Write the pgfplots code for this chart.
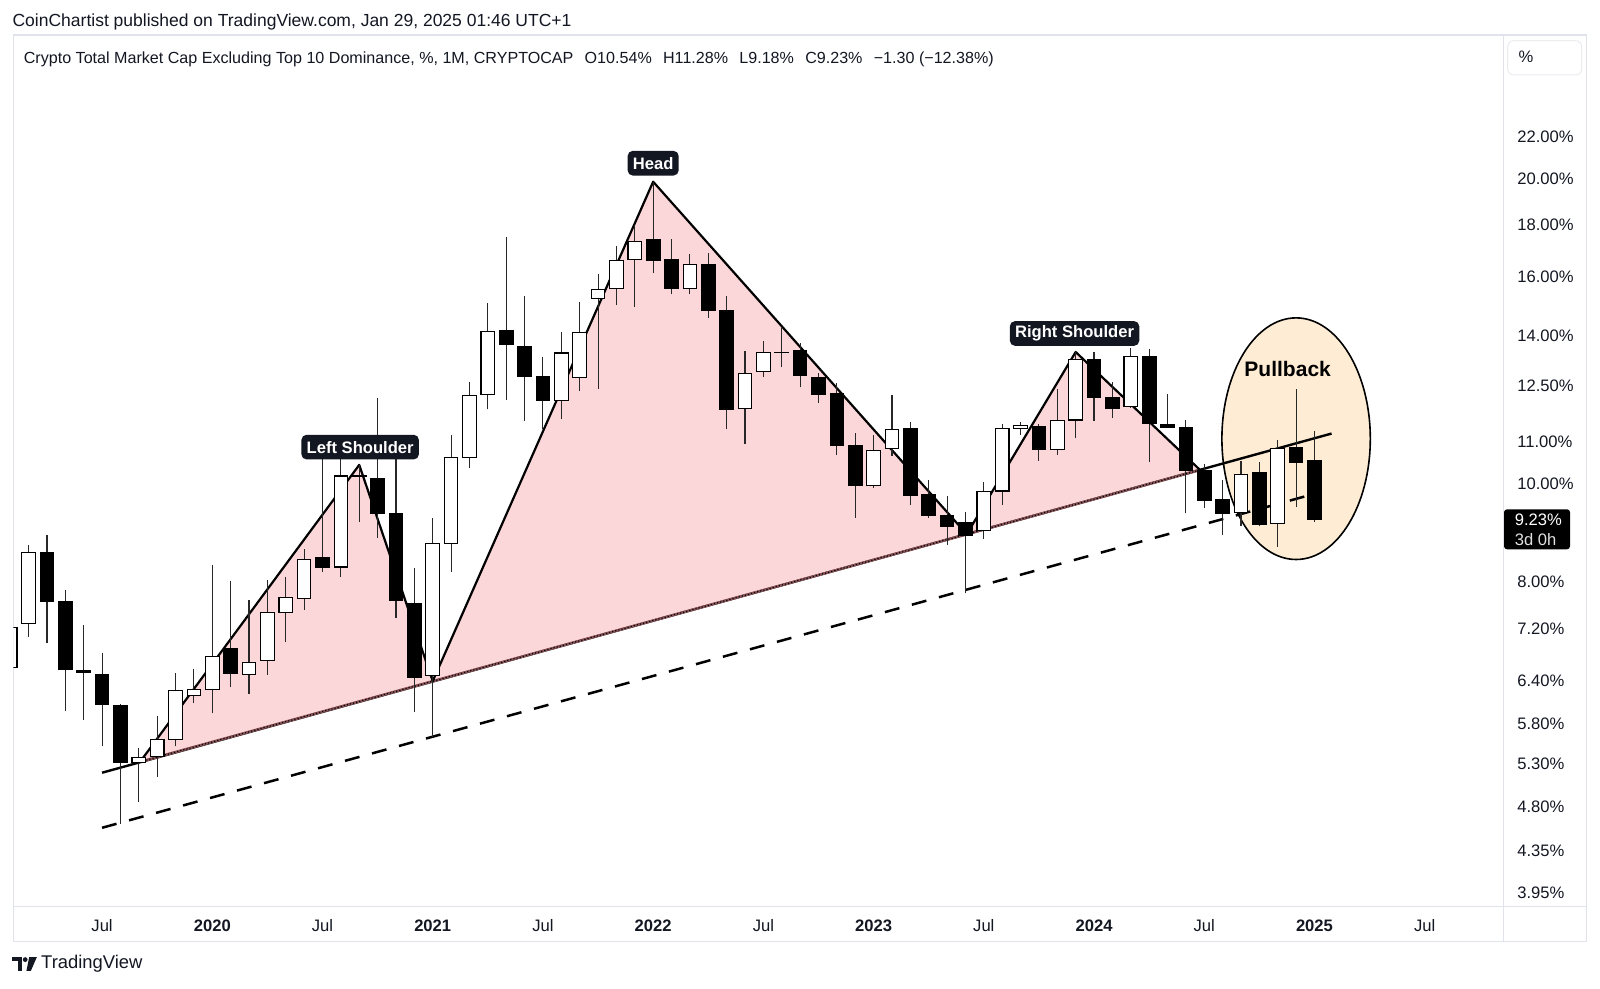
\documentclass[border=0pt]{standalone}
\usepackage{pgfplots}
\usepackage{pgfplotstable}
\pgfplotsset{compat=1.18}
\usepackage{fontspec}
\setmainfont{Liberation Sans}
\definecolor{tvdark}{RGB}{19,23,34}
\definecolor{tvgrid}{RGB}{224,227,235}
\definecolor{hspink}{RGB}{252,215,218}
\definecolor{hsedge}{RGB}{140,85,90}
\definecolor{peach}{RGB}{254,237,212}
\definecolor{wick}{RGB}{40,40,40}

\pgfplotstableread{
m O H L C
1 6.59 7.25 6.55 7.22
2 7.28 8.71 7.06 8.56
3 8.56 8.90 6.96 7.65
4 7.65 7.86 5.97 6.56
5 6.55 7.26 5.85 6.51
6 6.48 6.81 5.51 6.06
7 6.04 6.07 4.62 5.31
8 5.31 5.49 4.86 5.37
9 5.39 5.90 5.14 5.60
10 5.60 6.51 5.51 6.25
11 6.19 6.57 6.08 6.27
12 6.27 8.31 5.94 6.76
13 6.88 8.02 6.31 6.50
14 6.48 7.68 6.21 6.67
15 6.69 8.04 6.48 7.47
16 7.47 8.10 6.99 7.72
17 7.71 8.63 7.51 8.42
18 8.46 10.90 8.19 8.28
19 8.28 10.90 8.10 10.18
20 10.18 10.44 9.17 10.16
21 10.13 12.15 8.85 9.35
22 9.35 10.90 7.37 7.68
23 7.62 8.27 5.96 6.44
24 6.47 9.26 5.63 8.73
25 8.73 11.17 8.19 10.62
26 10.62 12.60 10.37 12.21
27 12.26 15.07 11.84 14.14
28 14.17 17.53 12.09 13.73
29 13.65 15.31 11.53 12.75
30 12.75 13.35 11.32 12.08
31 12.08 14.12 11.59 13.46
32 12.72 15.10 12.35 14.11
33 15.22 16.10 12.40 15.54
34 15.58 17.18 15.01 16.62
35 16.66 18.00 14.95 17.33
36 17.43 19.86 16.13 16.61
37 16.66 17.44 15.38 15.57
38 15.59 16.86 15.39 16.44
39 16.44 16.88 14.57 14.81
40 14.81 15.32 11.32 11.84
41 11.87 13.53 10.95 12.85
42 12.90 13.84 12.74 13.48
43 13.48 14.24 13.05 13.47
44 13.53 13.77 12.45 12.78
45 12.72 12.85 12.02 12.26
46 12.27 12.57 10.68 10.90
47 10.90 11.23 9.26 9.97
48 9.97 11.18 9.90 10.78
49 10.84 12.24 10.66 11.32
50 11.35 11.52 9.53 9.73
51 9.75 10.09 9.26 9.30
52 9.31 9.73 8.70 9.07
53 9.15 9.38 7.80 8.90
54 8.99 10.04 8.82 9.82
55 9.84 11.46 9.53 11.34
56 11.34 11.52 11.18 11.42
57 11.40 11.45 10.54 10.82
58 10.82 12.39 10.68 11.54
59 11.56 13.50 11.09 13.25
60 13.25 13.50 11.54 12.16
61 12.17 12.61 11.61 11.87
62 11.92 13.60 11.88 13.35
63 13.35 13.57 10.50 11.46
64 11.44 12.26 11.35 11.37
65 11.37 11.56 9.35 10.32
66 10.30 10.46 9.46 9.63
67 9.64 10.09 8.90 9.36
68 9.37 10.54 9.08 10.21
69 10.26 10.52 9.08 9.12
70 9.14 11.05 8.67 10.84
71 10.85 12.39 9.48 10.51
72 10.54 11.28 9.18 9.23
}\candles
\pgfplotstablegetrowsof{\candles}
\pgfmathtruncatemacro\nrows{\pgfplotsretval-1}

\begin{document}
\begin{tikzpicture}
\path[use as bounding box] (0,0) rectangle (800pt,494.5pt);
\fill[white] (0,0) rectangle (800pt,494.5pt);
% outer frame
\draw[tvgrid, line width=0.6pt] (6.65pt,23.65pt) rectangle (793.35pt,477pt);
\draw[tvgrid, line width=0.6pt] (751.65pt,41.15pt) -- (793.35pt,41.15pt);
\draw[tvgrid, line width=0.6pt] (751.65pt,41.15pt) -- (751.65pt,23.65pt);
\begin{axis}[
  at={(6.65pt,41.15pt)}, anchor=south west,
  scale only axis, width=745pt, height=435.85pt,
  xmin=1.168, xmax=82.28,
  ymode=log, ymin=3.829, ymax=27.71,
  axis line style={draw=tvgrid, line width=0.6pt},
  major tick length=0pt, minor tick length=0pt,
  xtick={6,12,...,78},
  xticklabels={Jul,\textbf{2020},Jul,\textbf{2021},Jul,\textbf{2022},Jul,\textbf{2023},Jul,\textbf{2024},Jul,\textbf{2025},Jul},
  ytick={3.95,4.35,4.8,5.3,5.8,6.4,7.2,8,10,11,12.5,14,16,18,20,22},
  yticklabels={3.95\%,4.35\%,4.80\%,5.30\%,5.80\%,6.40\%,7.20\%,8.00\%,10.00\%,11.00\%,12.50\%,14.00\%,16.00\%,18.00\%,20.00\%,22.00\%},
  yticklabel pos=right,
  xticklabel style={anchor=center, yshift=-9.6pt, font=\fontsize{8.3}{10}\selectfont, text=tvdark},
  yticklabel style={anchor=west, inner sep=0pt, xshift=6.8pt, font=\fontsize{8.3}{10}\selectfont, text=tvdark},
  /pgf/number format/assume math mode=true,
  clip=true,
]
% head and shoulders area
\addplot[fill=hspink, draw=none] coordinates {(8.07,5.32) (20,10.44) (24,6.39) (36,19.86) (53.07,8.92) (59,13.49) (65.77,10.32)} -- cycle;
% pullback ellipse
\draw[fill=peach, draw=black, line width=0.8pt] (axis cs:71,11.08) ellipse [x radius=37.1pt, y radius=60.4pt];
% dashed parallel
\addplot[black, line width=1.25pt, dash pattern=on 7.5pt off 6.5pt] coordinates {(6,4.58) (71.76,9.75)};
% neckline
\addplot[black, line width=1.2pt] coordinates {(6,5.19) (72.93,11.21)};
\addplot[hsedge, line width=1.3pt] coordinates {(8.07,5.32) (65.77,10.32)};
\addplot[black, line width=0.6pt, densely dotted] coordinates {(8.07,5.32) (65.77,10.32)};
% pattern outline
\addplot[black, line width=1.1pt, line join=round] coordinates {(8.07,5.32) (20,10.44) (24,6.39) (36,19.86) (53.07,8.92) (59,13.49) (65.77,10.32)};
% candles
\pgfplotsforeachungrouped \i in {0,...,\nrows}{%
  \pgfplotstablegetelem{\i}{m}\of\candles \let\cm\pgfplotsretval
  \pgfplotstablegetelem{\i}{O}\of\candles \let\co\pgfplotsretval
  \pgfplotstablegetelem{\i}{H}\of\candles \let\ch\pgfplotsretval
  \pgfplotstablegetelem{\i}{L}\of\candles \let\cl\pgfplotsretval
  \pgfplotstablegetelem{\i}{C}\of\candles \let\cc\pgfplotsretval
  \pgfmathsetmacro\xl{\cm-0.37}%
  \pgfmathsetmacro\xr{\cm+0.37}%
  \pgfmathtruncatemacro\up{\cc<\co ? 0 : 1}%
  \ifnum\up=1 \def\bodycol{white}\else\def\bodycol{black}\fi
  \edef\temp{%
    \noexpand\addplot[draw=wick, line width=0.55pt] coordinates {(\cm,\cl) (\cm,\ch)};
    \noexpand\addplot[draw=black, fill=\bodycol, line width=0.55pt] coordinates {(\xl,\co) (\xr,\co) (\xr,\cc) (\xl,\cc)} -- cycle;
  }%
  \temp
}
% labels
\node[fill=tvdark, text=white, rounded corners=2.5pt, font=\bfseries\fontsize{8.3}{10}\selectfont, inner xsep=2.6pt, inner ysep=0pt, minimum height=12.3pt] at (axis cs:20.05,10.87) {Left Shoulder};
\node[fill=tvdark, text=white, rounded corners=2.5pt, font=\bfseries\fontsize{8.3}{10}\selectfont, inner xsep=2.6pt, inner ysep=0pt, minimum height=12.3pt] at (axis cs:36,20.71) {Head};
\node[fill=tvdark, text=white, rounded corners=2.5pt, font=\bfseries\fontsize{8.3}{10}\selectfont, inner xsep=2.6pt, inner ysep=0pt, minimum height=12.3pt] at (axis cs:58.94,14.07) {Right Shoulder};
\node[font=\bfseries\fontsize{10.5}{12}\selectfont, text=black] at (axis cs:70.54,12.97) {Pullback};
\end{axis}
% header texts
\node[anchor=west, inner sep=0pt, text=tvdark, font=\fontsize{8.75}{10}\selectfont] at (6.1pt,483.3pt) {CoinChartist published on TradingView.com, Jan 29, 2025 01:46 UTC+1};
\node[anchor=west, inner sep=0pt, text=tvdark, font=\fontsize{8.05}{10}\selectfont] at (11.7pt,464.9pt) {Crypto Total Market Cap Excluding Top 10 Dominance, \%, 1M, CRYPTOCAP\hspace{0.7em}O10.54\%\hspace{0.7em}H11.28\%\hspace{0.7em}L9.18\%\hspace{0.7em}C9.23\%\hspace{0.7em}−1.30 (−12.38\%)};
% percent box
\draw[draw={rgb,255:red,235;green,236;blue,240}, rounded corners=3pt, line width=0.5pt] (753.85pt,457pt) rectangle (790.85pt,474.15pt);
\node[text=tvdark, font=\fontsize{8.3}{10}\selectfont] at (763pt,466pt) {\%};
% price label
\fill[black, rounded corners=1.5pt] (752pt,219.85pt) rectangle (785pt,239.85pt);
\node[anchor=west, inner sep=0pt, text=white, font=\fontsize{8.3}{10}\selectfont] at (757.2pt,234.5pt) {9.23\%};
\node[anchor=west, inner sep=0pt, text={rgb,255:red,225;green,225;blue,225}, font=\fontsize{8.3}{10}\selectfont] at (757.2pt,224.9pt) {3d 0h};
% TradingView logo
\fill[tvdark] (6.1pt,14.2pt) rectangle (10.9pt,15.9pt);
\fill[tvdark] (9.2pt,9.0pt) rectangle (10.9pt,15.9pt);
\fill[tvdark] (12.6pt,14.7pt) circle (1.2pt);
\fill[tvdark] (14.6pt,15.9pt) -- (18.4pt,15.9pt) -- (15.4pt,9.0pt) -- (13.2pt,9.0pt) -- cycle;
\node[anchor=west, inner sep=0pt, text=tvdark, font=\fontsize{9.2}{11}\selectfont] at (20.4pt,12.4pt) {TradingView};
\end{tikzpicture}
\end{document}
